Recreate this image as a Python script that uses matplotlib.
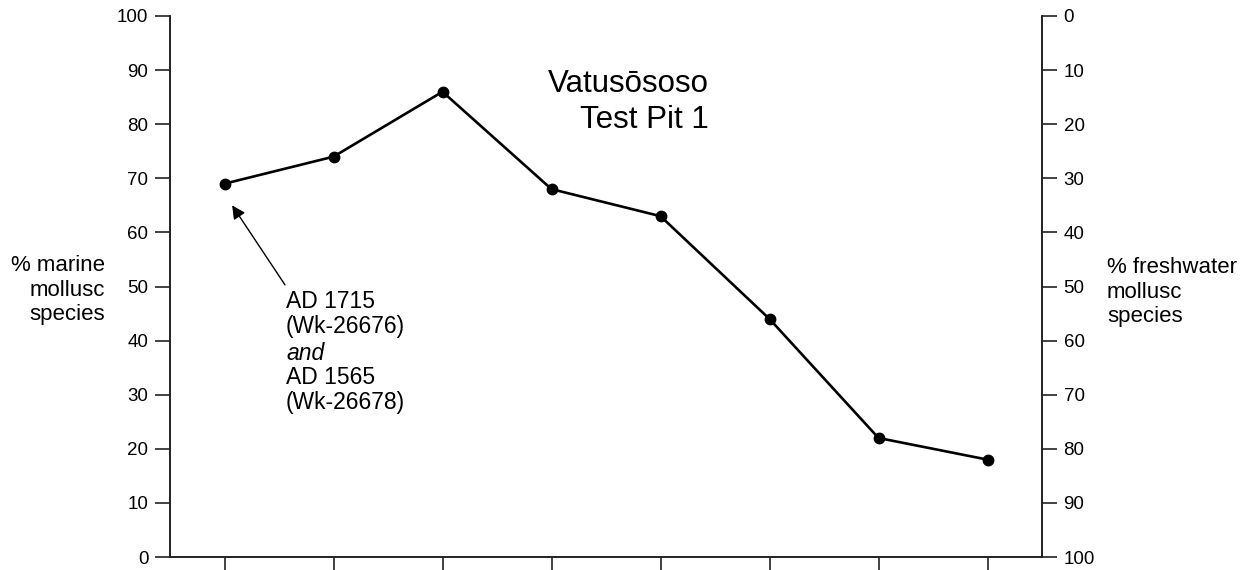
import matplotlib
matplotlib.use("Agg")
import matplotlib.pyplot as plt

plt.rcParams['font.family'] = ['Liberation Sans', 'DejaVu Sans']

# Data
samples = [1, 2, 3, 4, 5, 6, 7, 8]
marine_pct = [69, 74, 86, 68, 63, 44, 22, 18]
left_ticks = [0, 10, 20, 30, 40, 50, 60, 70, 80, 90, 100]
right_ticks = [0, 10, 20, 30, 40, 50, 60, 70, 80, 90, 100]

W, H = 1242, 570
fig = plt.figure(figsize=(W / 100, H / 100), dpi=100)
ax = fig.add_axes([170 / W, 1 - 557 / H, (1042 - 170) / W, (557 - 16) / H])

ax.plot(samples, marine_pct, color='black', lw=1.9, marker='o', ms=7.5,
        markerfacecolor='black', markeredgecolor='black', zorder=3)

ax.set_xlim(0.5, 8.5)
ax.set_ylim(0, 100)
ax.set_xticks(samples)
ax.set_xticklabels([])
ax.set_yticks(left_ticks)
ax.tick_params(axis='both', direction='out', length=11, width=1.2, colors='#222222',
               labelsize=13.5, pad=4.5, labelcolor='black')
for s in ['left', 'bottom', 'right']:
    ax.spines[s].set_linewidth(1.2)
    ax.spines[s].set_color('#222222')
ax.spines['top'].set_visible(False)

ax2 = ax.twinx()
ax2.set_ylim(100, 0)
ax2.set_yticks(right_ticks)
ax2.tick_params(axis='y', direction='out', length=11, width=1.2, colors='#222222',
                labelsize=13.5, pad=4.5, labelcolor='black')
for s in ['left', 'bottom', 'right']:
    ax2.spines[s].set_linewidth(1.2)
    ax2.spines[s].set_color('#222222')
ax2.spines['top'].set_visible(False)

# Axis labels
fig.text(105 / W, 1 - 290 / H, "% marine\nmollusc\nspecies", ha='right', va='center',
         multialignment='right', fontsize=16, linespacing=1.2)
fig.text(1107 / W, 1 - 292 / H, "% freshwater\nmollusc\nspecies", ha='left', va='center',
         multialignment='left', fontsize=16, linespacing=1.2)

# Title
fig.text(709 / W, 1 - 102 / H, "Vatusōsoso\nTest Pit 1", ha='right', va='center',
         multialignment='right', fontsize=22.5, linespacing=1.3)

# Annotation
ann_lines = ["AD 1715", "(Wk-26676)", "and", "AD 1565", "(Wk-26678)"]
ann_styles = ['normal', 'normal', 'italic', 'normal', 'normal']
ann_y = [302, 327, 353, 378, 403]
for txt, st, yy in zip(ann_lines, ann_styles, ann_y):
    fig.text(286 / W, 1 - yy / H, txt, ha='left', va='center', fontsize=16.5, style=st)

ax.annotate('', xy=(1.07, 65.0), xytext=(1.555, 50.3), xycoords='data', textcoords='data',
            arrowprops=dict(arrowstyle='-|>', color='black', lw=1.0, mutation_scale=20,
                            shrinkA=0, shrinkB=0))

fig.savefig('out.png', dpi=100)
